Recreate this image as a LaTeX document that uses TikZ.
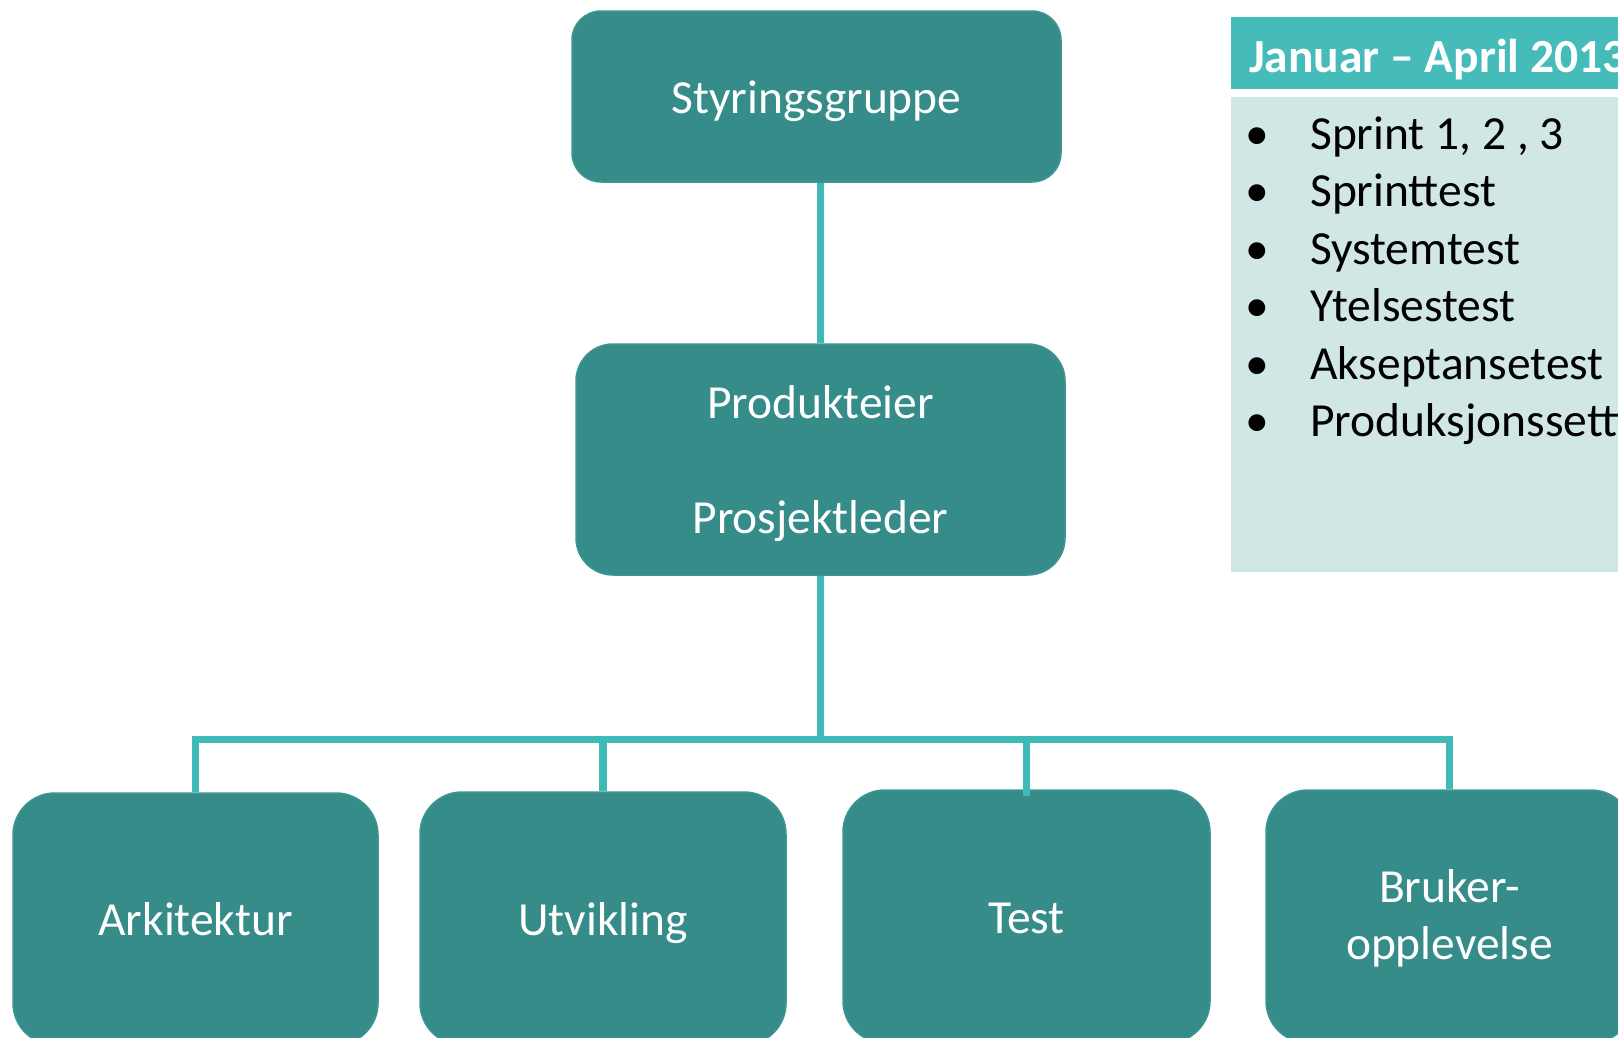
\documentclass[tikz,border=0pt]{standalone}
\usepackage{fontspec}
\setmainfont{Carlito}
\definecolor{boxfill}{HTML}{358C89}
\definecolor{boxedge}{HTML}{3C9692}
\definecolor{conncol}{HTML}{40BAB8}
\definecolor{hdrfill}{HTML}{46BCBA}
\definecolor{bodyfill}{HTML}{D0E7E6}
\begin{document}
\begin{tikzpicture}[x=1pt,y=-1pt,
  orgbox/.style={fill=boxfill, draw=boxedge, line width=1.5pt, text=white,
    font=\fontsize{47.5}{57}\selectfont, align=center,
    text height=33pt, text depth=0pt, inner sep=0pt},
  bigbox/.style={orgbox, rounded corners=42pt, minimum width=366pt, minimum height=253pt},
  conn/.style={draw=conncol, line width=7.5pt},
  listtext/.style={anchor=base west, inner sep=0pt, text=black, font=\fontsize{47.5}{57}\selectfont},
  bullet/.style={anchor=base, inner sep=0pt, text=black, font=\fontsize{47.5}{57}\selectfont}]
\useasboundingbox (0,0) rectangle (1618,1037);
\fill[white] (0,0) rectangle (1618,1037);

% panel
\fill[hdrfill] (1231,17.3) rectangle (1650,89);
\fill[bodyfill] (1231,97) rectangle (1650,572);
\node[anchor=base west, inner sep=0pt, text=white, font=\bfseries\fontsize{47.5}{57}\selectfont] (hdr) at (1249,72) {Januar – April 2013};
\node[bullet] (b1) at (1257.5,149) {•};
\node[bullet] (b2) at (1257.5,206.5) {•};
\node[bullet] (b3) at (1257.5,264) {•};
\node[bullet] (b4) at (1257.5,321.5) {•};
\node[bullet] (b5) at (1257.5,379) {•};
\node[bullet] (b6) at (1257.5,436.5) {•};
\node[listtext] (l1) at (1310,149) {Sprint 1, 2 , 3};
\node[listtext] (l2) at (1310,206.5) {Sprinttest};
\node[listtext] (l3) at (1310,264) {Systemtest};
\node[listtext] (l4) at (1310,321.5) {Ytelsestest};
\node[listtext] (l5) at (1310,379) {Akseptansetest};
\node[listtext] (l6) at (1310,436.5) {Produksjonssetting};

% boxes
\node[orgbox, rounded corners=29pt, minimum width=489pt, minimum height=171pt] (sg) at (816.5,96.5) {Styringsgruppe};
\node[orgbox, rounded corners=37pt, minimum width=489pt, minimum height=231pt, text height=147pt] (pp) at (820.5,459.5) {Produkteier\\[58pt]Prosjektleder};
\node[bigbox, minimum width=365pt, minimum height=252pt] (ark) at (195.5,919) {Arkitektur};
\node[bigbox] (utv) at (603,918.5) {Utvikling};
\node[bigbox, minimum width=367pt] (tst) at (1026.5,916.5) {Test};
\node[bigbox, minimum width=367pt, text height=85pt] (bru) at (1449.5,916.5) {Bruker-\\opplevelse};

% connectors
\coordinate (bar) at (822,739.5);
\draw[conn] (pp.north |- sg.south) -- (pp.north);
\draw[conn] (pp.south) -- (pp.south |- bar);
\draw[conn] (ark.north) -- (ark.north |- bar) -- (bru.north |- bar) -- (bru.north);
\draw[conn] (utv.north) -- (utv.north |- bar);
\draw[conn] ([yshift=-7pt]tst.north) -- (tst.north |- bar);
\end{tikzpicture}
\end{document}
